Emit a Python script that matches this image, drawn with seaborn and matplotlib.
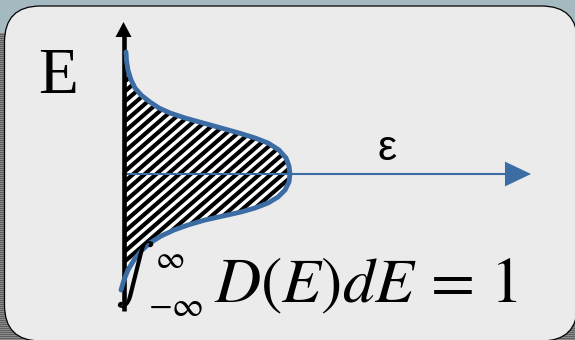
import numpy as np
import matplotlib
matplotlib.use("Agg")
import matplotlib.pyplot as plt
import matplotlib.transforms as mtransforms
from matplotlib.patches import FancyBboxPatch, Polygon
from matplotlib.collections import LineCollection
import seaborn as sns

sns.set_theme(style="white")
plt.rcParams["mathtext.fontset"] = "stix"

# Density of states D(E): energy runs up the vertical axis, density to the right
energy = [3.05, 2.85, 2.60, 2.35, 2.15, 1.975, 1.80, 1.65, 1.525, 1.40, 1.275,
          1.15, 1.025, 0.90, 0.775, 0.60, 0.40, 0.20, 0.00, -0.20, -0.40, -0.575,
          -0.725, -0.85, -0.95, -1.05, -1.15, -1.275, -1.40, -1.55, -1.725,
          -1.925, -2.15, -2.40, -2.65, -2.90]
density = [0.015, 0.018, 0.027, 0.046, 0.070, 0.107, 0.161, 0.216, 0.284, 0.375,
           0.485, 0.595, 0.704, 0.802, 0.881, 0.948, 0.991, 1.009, 1.015, 1.009,
           0.985, 0.942, 0.881, 0.802, 0.716, 0.607, 0.497, 0.393, 0.308, 0.229,
           0.161, 0.107, 0.064, 0.027, 0.003, -0.015]

axis_label = "E"
eps_label = "ε"
norm_lhs = r"$D(E)dE\,=\,1$"
upper_limit = r"$\infty$"
lower_limit = r"$-\infty$"

W, H, DPI = 575, 340, 100
BLUE = "#3c6ca4"

fig = plt.figure(figsize=(W / DPI, H / DPI), dpi=DPI)
# pixel coordinates measured from the top-left corner
pix = mtransforms.Affine2D().scale(1 / DPI, -1 / DPI).translate(0, H / DPI) + fig.dpi_scale_trans

# slide backdrop: blue-grey strip on top, striped grey below
bg = np.empty((H, W, 3))
bg[:] = np.array([0x5e, 0x5e, 0x5e]) / 255
bg[1::2] = np.array([0x8c, 0x8c, 0x8c]) / 255
bg[:33] = np.array([0xa5, 0xb9, 0xc1]) / 255
fig.figimage(bg, xo=0, yo=0, origin="upper", zorder=-10)

box = FancyBboxPatch((4.5, 6), 573, 335, boxstyle="round,pad=0,rounding_size=36",
                     transform=pix, facecolor="#ebebeb", edgecolor="black",
                     linewidth=0.9, zorder=-5)
fig.add_artist(box)

# data axes: origin sits where the two arrows cross
x0_px, sx = 123.5, 164.0
y0_px, sy = 174.0, 40.0
ax = fig.add_axes([0, 0, 1, 1])
ax.set_axis_off()

# shaded area under D(E)
verts = list(zip(density, energy)) + [(0, energy[-1]), (0, energy[0])]
area = Polygon(verts, closed=True, facecolor="white", edgecolor="none", zorder=2)
ax.add_patch(area)

k = np.tan(np.radians(41))
segs = []
for c in np.arange(100, 660, 11.5 * k):
    segs.append([(90, c - k * 90), (330, c - k * 330)])
hatch = LineCollection(segs, colors="black", linewidths=3.0, transform=pix, zorder=3)
hatch.set_clip_path(area)
ax.add_collection(hatch, autolim=False)

# energy axis (black, arrow up)
ax.plot([0, 0], [-3.425, 3.45], color="black", lw=3.3, solid_capstyle="butt", zorder=6)
ax.add_patch(Polygon([(-8 / sx, 3.425), (8 / sx, 3.425), (0, 3.80)],
                     closed=True, facecolor="black", edgecolor="none", zorder=6))

# epsilon axis (blue, arrow right)
ax.plot([-1.5 / sx, 2.33], [0, 0], color=BLUE, lw=1.5, solid_capstyle="butt", zorder=4)
ax.add_patch(Polygon([(2.326, 0.31), (2.326, -0.31), (2.485, 0)],
                     closed=True, facecolor=BLUE, edgecolor="none", zorder=4))

sns.lineplot(x=density, y=energy, sort=False, estimator=None, ax=ax, color=BLUE,
             lw=3.5, zorder=7)
for ln in ax.lines[-1:]:
    ln.set_solid_capstyle("round")
    ln.set_solid_joinstyle("round")

ax.set_xlim(-x0_px / sx, (W - x0_px) / sx)
ax.set_ylim(-(H - y0_px) / sy, y0_px / sy)
ax.set_axis_off()

ax.text(38, 93, axis_label, transform=pix, family="Liberation Serif", fontsize=47,
        ha="left", va="baseline", color="black")
ax.text(387, 160, eps_label, transform=pix, family="Liberation Sans", fontsize=31,
        ha="center", va="baseline", color="black")
ax.text(214, 302, norm_lhs, transform=pix, fontsize=46, ha="left", va="baseline",
        color="black")
ax.text(135, 275, r"$\int$", transform=pix, fontsize=42, ha="center", va="center",
        color="black", zorder=8)
ax.text(155, 260, upper_limit, transform=pix, fontsize=23, ha="left", va="center",
        color="black")
ax.text(148, 306, lower_limit, transform=pix, fontsize=25, ha="left", va="center",
        color="black")

fig.savefig("out.png", dpi=DPI)
